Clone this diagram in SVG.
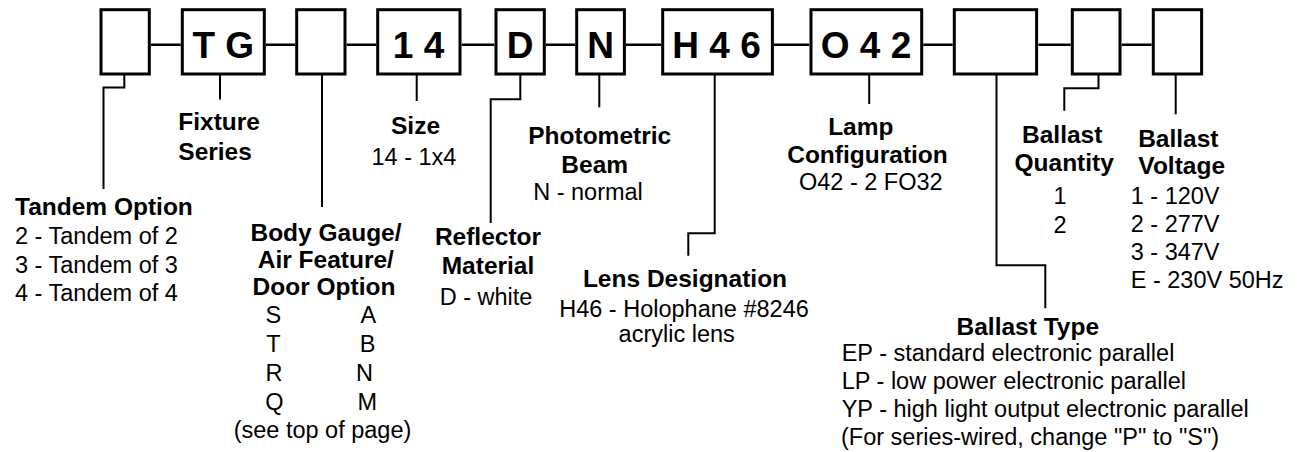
<svg xmlns="http://www.w3.org/2000/svg" width="1297" height="452" viewBox="0 0 1297 452">
<style>
.box{fill:#fff;stroke:#000;stroke-width:3}
.code{font-family:"Liberation Sans",Arial,sans-serif;font-weight:bold;font-size:37px;text-anchor:middle;fill:#000}
.h{font-family:"Liberation Sans",Arial,sans-serif;font-weight:bold;font-size:24.5px;fill:#000}
.t{font-family:"Liberation Sans",Arial,sans-serif;font-size:23.5px;fill:#000}
.m{text-anchor:middle}
.link{fill:none;stroke:#000;stroke-width:2.5}
.drop{fill:none;stroke:#000;stroke-width:2}
</style>
<rect width="1297" height="452" fill="#fff"/>
<g id="connectors">
<path class="link" d="M151,44.7H180.7M266,44.7H295M346.7,44.7H376M461.7,44.7H494.3M546,44.7H575M626,44.7H661M774,44.7H809.3M923.3,44.7H952.7M1038.3,44.7H1070.7M1121.7,44.7H1151.7"/>
<path class="drop" d="M124.3,75V87.5H103.5V189"/>
<path class="drop" d="M220,75V99.5"/>
<path class="drop" d="M322,75V207"/>
<path class="drop" d="M416.7,75V101"/>
<path class="drop" d="M520.3,75V99.3H490.7V223"/>
<path class="drop" d="M599.3,75V107.3"/>
<path class="drop" d="M714.7,75V233.3H688.3V255.7"/>
<path class="drop" d="M869.2,75V104"/>
<path class="drop" d="M996.5,75V265.3H1045.3V308.3"/>
<path class="drop" d="M1098.5,75V88.3H1064.3V110.7"/>
<path class="drop" d="M1175.7,75V114.3"/>
</g>
<g id="box-tandem"><rect class="box" x="101" y="9.7" width="48.3" height="64.3"/></g>
<g id="box-series"><rect class="box" x="182.3" y="9.7" width="82" height="64.3"/><text class="code" x="223.3" y="58.3">T G</text></g>
<g id="box-body"><rect class="box" x="296.7" y="9.7" width="48.3" height="64.3"/></g>
<g id="box-size"><rect class="box" x="377.7" y="9.7" width="82.3" height="64.3"/><text class="code" x="418.5" y="58.3">1 4</text></g>
<g id="box-reflector"><rect class="box" x="496" y="9.7" width="48.3" height="64.3"/><text class="code" x="520.2" y="58.3">D</text></g>
<g id="box-beam"><rect class="box" x="576.7" y="9.7" width="47.7" height="64.3"/><text class="code" x="600.5" y="58.3">N</text></g>
<g id="box-lens"><rect class="box" x="662.7" y="9.7" width="109.7" height="64.3"/><text class="code" x="716.5" y="58.3">H 4 6</text></g>
<g id="box-lamp"><rect class="box" x="811" y="9.7" width="110.7" height="64.3"/><text class="code" x="866" y="58.3">O 4 2</text></g>
<g id="box-ballast-type"><rect class="box" x="954.3" y="9.7" width="82.3" height="64.3"/></g>
<g id="box-ballast-qty"><rect class="box" x="1072.3" y="9.7" width="47.7" height="64.3"/></g>
<g id="box-ballast-volt"><rect class="box" x="1153.3" y="9.7" width="48.3" height="64.3"/></g>

<g id="label-tandem">
<text class="h" x="15" y="215">Tandem Option</text>
<text class="t" x="15" y="244">2 - Tandem of 2</text>
<text class="t" x="15" y="272.5">3 - Tandem of 3</text>
<text class="t" x="15" y="301">4 - Tandem of 4</text>
</g>
<g id="label-series">
<text class="h" x="178.3" y="130">Fixture</text>
<text class="h" x="178.3" y="160">Series</text>
</g>
<g id="label-body">
<text class="h m" x="326" y="240.7">Body Gauge/</text>
<text class="h m" x="325.8" y="268.3">Air Feature/</text>
<text class="h m" x="324" y="295">Door Option</text>
<text class="t m" x="273.3" y="322.5">S</text><text class="t m" x="368.3" y="322.5">A</text>
<text class="t m" x="273.5" y="351.5">T</text><text class="t m" x="367.7" y="351.5">B</text>
<text class="t m" x="274" y="381">R</text><text class="t m" x="364.5" y="381">N</text>
<text class="t m" x="274.3" y="410">Q</text><text class="t m" x="367.3" y="410">M</text>
<text class="t m" x="322.5" y="438">(see top of page)</text>
</g>
<g id="label-size">
<text class="h m" x="415.5" y="134.3">Size</text>
<text class="t m" x="414" y="165">14 - 1x4</text>
</g>
<g id="label-reflector">
<text class="h m" x="488" y="245">Reflector</text>
<text class="h m" x="488" y="274">Material</text>
<text class="t m" x="486" y="305">D - white</text>
</g>
<g id="label-beam">
<text class="h m" x="599.7" y="144">Photometric</text>
<text class="h m" x="594.7" y="173">Beam</text>
<text class="t m" x="588" y="200">N - normal</text>
</g>
<g id="label-lens">
<text class="h m" x="685" y="286.7">Lens Designation</text>
<text class="t m" x="684" y="316.5">H46 - Holophane #8246</text>
<text class="t m" x="676.7" y="342">acrylic lens</text>
</g>
<g id="label-lamp">
<text class="h m" x="860.8" y="135">Lamp</text>
<text class="h m" x="867.5" y="163.3">Configuration</text>
<text class="t m" x="870.8" y="190">O42 - 2 FO32</text>
</g>
<g id="label-ballast-qty">
<text class="h m" x="1062.2" y="142.7">Ballast</text>
<text class="h m" x="1064.2" y="170.7">Quantity</text>
<text class="t m" x="1060" y="204">1</text>
<text class="t m" x="1060" y="233">2</text>
</g>
<g id="label-ballast-volt">
<text class="h m" x="1178.3" y="146.7">Ballast</text>
<text class="h m" x="1181.7" y="174">Voltage</text>
<text class="t" x="1130.7" y="204">1 - 120V</text>
<text class="t" x="1130.7" y="232">2 - 277V</text>
<text class="t" x="1130.7" y="260">3 - 347V</text>
<text class="t" x="1130.7" y="288">E - 230V 50Hz</text>
</g>
<g id="label-ballast-type">
<text class="h m" x="1027.8" y="335">Ballast Type</text>
<text class="t" x="841.7" y="360.5">EP - standard electronic parallel</text>
<text class="t" x="841.7" y="388.5">LP - low power electronic parallel</text>
<text class="t" x="841.7" y="416.5">YP - high light output electronic parallel</text>
<text class="t" x="841" y="444.5">(For series-wired, change "P" to "S")</text>
</g>
</svg>
